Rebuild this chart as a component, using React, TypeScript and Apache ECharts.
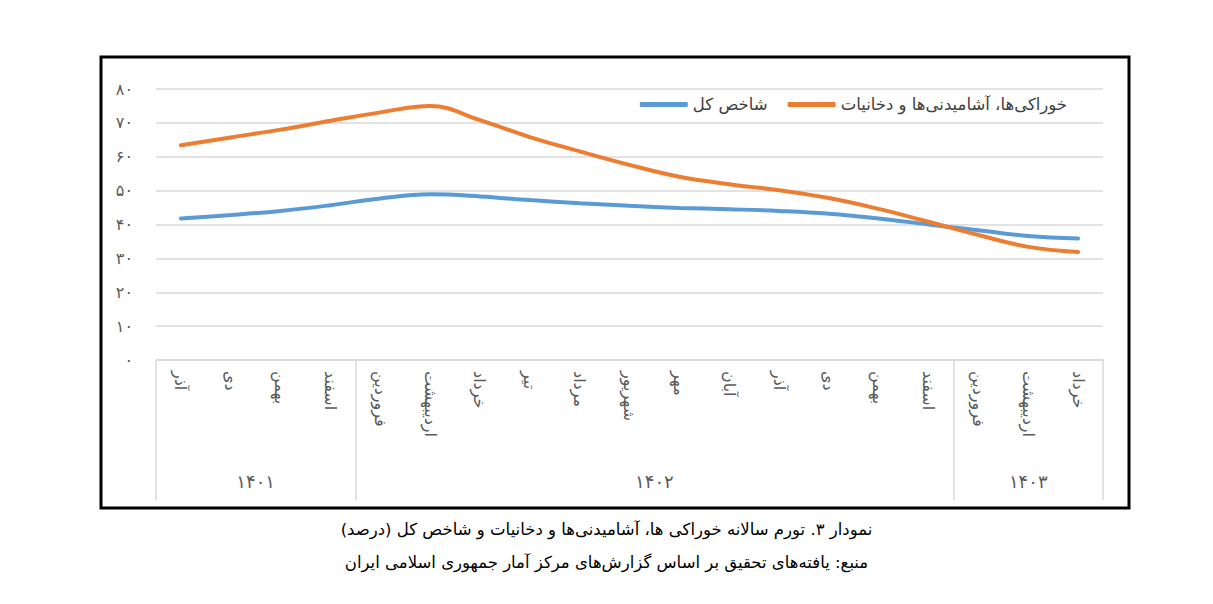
import React, { useEffect, useRef } from "react";
import * as echarts from "echarts";

const months = [
  "آذر", "دی", "بهمن", "اسفند",
  "فروردین", "اردیبهشت", "خرداد", "تیر", "مرداد", "شهریور", "مهر", "آبان", "آذر", "دی", "بهمن", "اسفند",
  "فروردین", "اردیبهشت", "خرداد",
];
const groupLabels = ["۱۴۰۱", "۱۴۰۲", "۱۴۰۳"];
const groupSizes = [4, 12, 3];

const generalName = "شاخص کل";
const foodName = "خوراکی‌ها، آشامیدنی‌ها و دخانیات";

const generalValues = [41.8, 42.8, 44.0, 45.7, 47.7, 48.9, 48.3, 47.2, 46.3, 45.5, 44.9, 44.5, 44.0, 43.2, 41.8, 40.0, 38.3, 36.6, 35.9];
const foodValues = [63.4, 65.7, 68.0, 70.6, 73.1, 75.0, 70.8, 65.8, 61.6, 57.6, 54.1, 51.9, 50.1, 47.8, 44.6, 40.8, 36.9, 33.4, 31.9];

const yTickLabels = ["۰", "۱۰", "۲۰", "۳۰", "۴۰", "۵۰", "۶۰", "۷۰", "۸۰"];

const captionLine1 = "نمودار ۳. تورم سالانه خوراکی ها، آشامیدنی‌ها و دخانیات و شاخص کل (درصد)";
const captionLine2 = "منبع: یافته‌های تحقیق بر اساس گزارش‌های مرکز آمار جمهوری اسلامی ایران";

const FONT = "DejaVu Sans";

export default function App() {
  const ref = useRef<HTMLDivElement>(null);

  useEffect(() => {
    document.body.style.margin = "0";
    if (!ref.current) return;
    const chart = echarts.init(ref.current, null, { renderer: "svg" });

    const boundaries: number[] = [];
    const centers: { pos: number; label: string }[] = [];
    let acc = 0;
    groupSizes.forEach((s, i) => {
      boundaries.push(acc);
      centers.push({ pos: acc + s / 2, label: groupLabels[i] });
      acc += s;
    });

    const option: any = {
      animation: false,
      backgroundColor: "#fff",
      textStyle: { fontFamily: FONT },
      title: {
        text: captionLine1,
        subtext: captionLine2,
        left: "center",
        top: 516,
        itemGap: 16,
        textStyle: { fontFamily: FONT, fontSize: 16.5, fontWeight: "normal", color: "#000" },
        subtextStyle: { fontFamily: FONT, fontSize: 16.5, color: "#000" },
      },
      legend: {
        data: [generalName, foodName],
        right: 141,
        top: 91,
        icon: "roundRect",
        itemWidth: 48,
        itemHeight: 5,
        itemGap: 20,
        textStyle: { fontFamily: FONT, fontSize: 16.5, color: "#404040" },
      },
      grid: { left: 156, right: 110, top: 89, bottom: 244, containLabel: false },
      xAxis: [
        {
          type: "category",
          data: months,
          boundaryGap: true,
          axisLine: { show: true, lineStyle: { color: "#d9d9d9", width: 1.5 } },
          axisTick: {
            show: true,
            length: 140,
            interval: (index: number) => boundaries.indexOf(index) >= 0,
            lineStyle: { color: "#d9d9d9", width: 1.5 },
          },
          axisLabel: {
            interval: 0,
            rotate: -90,
            margin: 11,
            fontFamily: FONT,
            fontSize: 16,
            color: "#595959",
          },
        },
        {
          type: "value",
          position: "bottom",
          min: 0,
          max: months.length,
          interval: 0.5,
          offset: 108,
          axisLine: { show: false },
          axisTick: { show: false },
          splitLine: { show: false },
          axisLabel: {
            margin: 4,
            fontFamily: FONT,
            fontSize: 18,
            color: "#595959",
            showMinLabel: true,
            showMaxLabel: true,
            formatter: (v: number) => {
              const c = centers.find((g) => Math.abs(g.pos - v) < 1e-6);
              return c ? c.label : "";
            },
          },
        },
      ],
      yAxis: {
        type: "value",
        min: 0,
        max: 80,
        interval: 10,
        axisLine: { show: false },
        axisTick: { show: false },
        splitLine: { lineStyle: { color: "#d9d9d9", width: 1.5 } },
        axisLabel: {
          margin: 23,
          fontFamily: FONT,
          fontSize: 16,
          color: "#595959",
          formatter: (v: number) => yTickLabels[Math.round(v / 10)] ?? "",
        },
      },
      graphic: [
        {
          type: "rect",
          shape: { x: 101, y: 57, width: 1028, height: 451 },
          style: { fill: "none", stroke: "#000", lineWidth: 3 },
          silent: true,
        },
      ],
      series: [
        {
          name: generalName,
          type: "line",
          xAxisIndex: 0,
          data: generalValues,
          smooth: 0.4,
          symbol: "none",
          lineStyle: { color: "#5b9bd5", width: 4, cap: "round" },
          itemStyle: { color: "#5b9bd5" },
        },
        {
          name: foodName,
          type: "line",
          xAxisIndex: 0,
          data: foodValues,
          smooth: 0.4,
          symbol: "none",
          lineStyle: { color: "#ed7d31", width: 4, cap: "round" },
          itemStyle: { color: "#ed7d31" },
        },
      ],
    };

    chart.setOption(option);
    return () => chart.dispose();
  }, []);

  return <div ref={ref} style={{ width: 1213, height: 604 }} />;
}
